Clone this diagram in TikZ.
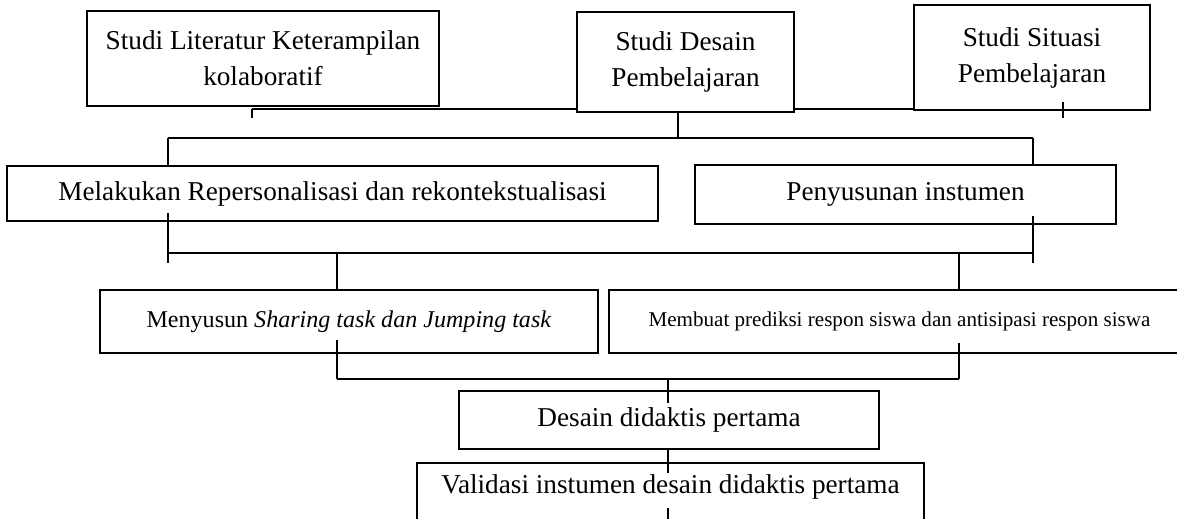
\documentclass[tikz,border=0pt]{standalone}
\usepackage{fontspec}
\setmainfont{Liberation Serif}
\usetikzlibrary{positioning}

\tikzset{
	kotak/.style={draw,line width=1pt,align=center,inner sep=0pt,font=\fontsize{15.5}{20.5}\selectfont},
	kotaktask/.style={kotak,font=\fontsize{13.7}{16}\selectfont},
	kotakkecil/.style={kotak,font=\fontsize{12}{15}\selectfont},
	garis/.style={line width=1pt}
}

\begin{document}
\begin{tikzpicture}[x=0.02cm,y=-0.02cm]
		\useasboundingbox (0,0) rectangle (1177,519);
		% baris pertama
		\node[kotak,minimum width=7.04cm,minimum height=1.9cm] (lit) at (263,58.5) {Studi Literatur Keterampilan\\kolaboratif};
		\node[kotak,minimum width=4.34cm,minimum height=2.0cm] (desain) at (685.5,62) {Studi Desain\\Pembelajaran};
		\node[kotak,minimum width=4.72cm,minimum height=2.1cm] (situasi) at (1032,57.5) {Studi Situasi\\Pembelajaran};
		
		\coordinate (ja) at (252,109);
		\coordinate (jc) at (1063,110);
		\draw[garis] (ja) -- (desain.west |- ja);
		\draw[garis] (ja) -- ++(0,9);
		\draw[garis] (desain.east |- ja) -- (situasi.west |- ja);
		\draw[garis] (jc) ++(0,-8) -- ++(0,16);
		
		% baris kedua
		\node[kotak,minimum width=13.02cm,minimum height=1.1cm] (repers) at (332.5,193.5) {Melakukan Repersonalisasi dan rekontekstualisasi};
		\node[kotak,minimum width=8.42cm,minimum height=1.18cm] (instrumen) at (905.5,194.5) {Penyusunan instumen};
		
		\coordinate (jb) at (678,138);
		\coordinate (jd) at (168,138);
		\coordinate (je) at (1033,138);
		\draw[garis] (jb |- desain.south) -- (jb);
		\draw[garis] (jd) -- (je);
		\draw[garis] (jd) -- (jd |- repers.north);
		\draw[garis] (je) -- (je |- instrumen.north);
		
		% baris ketiga
		\node[kotaktask,minimum width=9.96cm,minimum height=1.26cm] (task) at (349,321.5) {Menyusun \textit{Sharing task dan Jumping task}};
		\node[kotakkecil,minimum width=11.62cm,minimum height=1.26cm] (prediksi) at (899.5,321.5) {Membuat prediksi respon siswa dan antisipasi respon siswa};
		
		\coordinate (kd) at (168,253);
		\coordinate (ke) at (1033,253);
		\coordinate (kf) at (337,253);
		\coordinate (kg) at (959,253);
		\draw[garis] (kd) -- (ke);
		\draw[garis] (kd) ++(0,-40) -- ++(0,50);
		\draw[garis] (ke) ++(0,-37) -- ++(0,47);
		\draw[garis] (kf) -- (kf |- task.north);
		\draw[garis] (kg) -- (kg |- prediksi.north);
		
		% desain didaktis
		\node[kotak,minimum width=8.4cm,minimum height=1.16cm] (didaktis) at (669,420) {Desain didaktis pertama};
		\node[kotak,minimum width=10.14cm,text height=17.6pt,text depth=21pt,anchor=north] (validasi) at (670.5,462) {Validasi instumen desain didaktis pertama};
		
		\coordinate (lf) at (337,379);
		\coordinate (lg) at (959,379);
		\coordinate (lh) at (668,379);
		\draw[garis] (lf) -- (lg);
		\draw[garis] (lf) ++(0,-39) -- (lf);
		\draw[garis] (lg) ++(0,-36) -- (lg);
		\draw[garis] (lh) -- ++(0,24);
		\draw[garis] (lh |- didaktis.south) -- ++(0,23);
		\draw[garis] (lh |- validasi.north) ++(0,46) -- ++(0,11);
	\end{tikzpicture}
\end{document}
